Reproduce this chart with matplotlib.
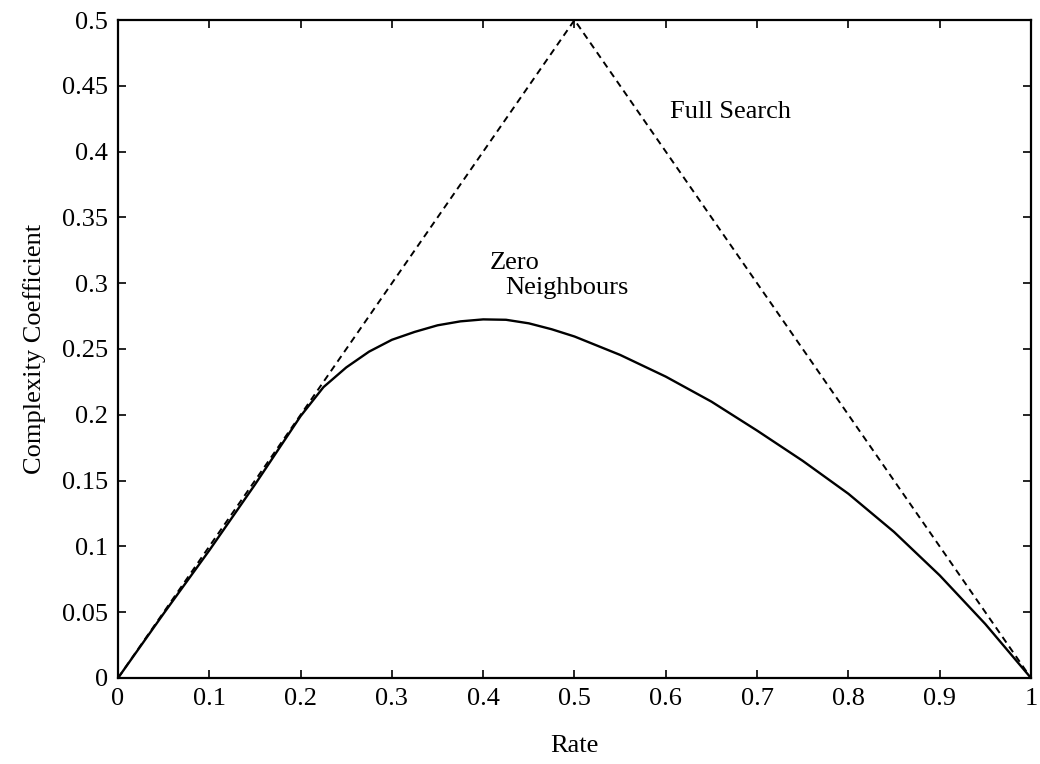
import matplotlib
matplotlib.use("Agg")
import matplotlib.pyplot as plt

# Data
rate_full = [0.0, 0.5, 1.0]
full_search = [0.0, 0.5, 0.0]

rate_zero = [0.0, 0.05, 0.1, 0.15, 0.2, 0.225, 0.25, 0.275, 0.3, 0.325, 0.35,
             0.375, 0.4, 0.425, 0.45, 0.475, 0.5, 0.55, 0.6, 0.65, 0.7, 0.75, 0.8,
             0.85, 0.9, 0.95, 1.0]
zero_neighbours = [0.0, 0.049, 0.097, 0.147, 0.199, 0.221, 0.236, 0.248, 0.257,
                   0.263, 0.268, 0.271, 0.2725, 0.2722, 0.2695, 0.265, 0.2595,
                   0.2455, 0.229, 0.21, 0.188, 0.165, 0.14, 0.111, 0.078, 0.041, 0.0]

xticks = [0, 0.1, 0.2, 0.3, 0.4, 0.5, 0.6, 0.7, 0.8, 0.9, 1.0]
xtick_labels = ["0", "0.1", "0.2", "0.3", "0.4", "0.5", "0.6", "0.7", "0.8", "0.9", "1"]
yticks = [0, 0.05, 0.1, 0.15, 0.2, 0.25, 0.3, 0.35, 0.4, 0.45, 0.5]
ytick_labels = ["0", "0.05", "0.1", "0.15", "0.2", "0.25", "0.3", "0.35", "0.4", "0.45", "0.5"]

plt.rcParams['font.family'] = ['Liberation Serif', 'DejaVu Serif']
FS = 19

fig = plt.figure(figsize=(10.4, 7.64), dpi=100)
ax = fig.add_axes([0.1135, 0.1126, 0.8778, 0.8612])

ax.plot(rate_full, full_search, color='black', lw=1.4, linestyle=(0, (3.5, 2.5)))
ax.plot(rate_zero, zero_neighbours, color='black', lw=1.7)

ax.set_xlim(0, 1)
ax.set_ylim(0, 0.5)
ax.set_xticks(xticks)
ax.set_xticklabels(xtick_labels)
ax.set_yticks(yticks)
ax.set_yticklabels(ytick_labels)
ax.tick_params(direction='in', length=6, width=1.2, top=True, right=True,
               labelsize=FS, pad=7)
for s in ax.spines.values():
    s.set_linewidth(1.6)

ax.set_xlabel("Rate", fontsize=FS, labelpad=18)
ax.set_ylabel("Complexity Coefficient", fontsize=FS, labelpad=12)

ax.text(0.605, 0.43, "Full Search", fontsize=FS, ha='left', va='center')
ax.text(0.407, 0.315, "Zero", fontsize=FS, ha='left', va='center')
ax.text(0.424, 0.296, "Neighbours", fontsize=FS, ha='left', va='center')

fig.savefig("out.png", dpi=100)
